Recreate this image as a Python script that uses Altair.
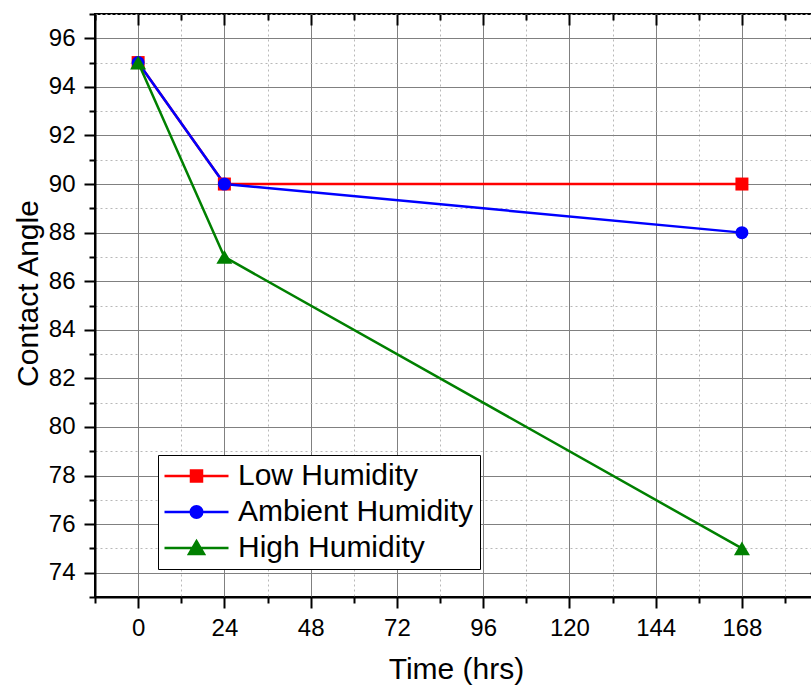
import altair as alt
import pandas as pd

# ---- data ----
hours = [0, 24, 168]
series_names = ["Low Humidity", "Ambient Humidity", "High Humidity"]
low = [95, 90, 90]
ambient = [95, 90, 88]
high = [95, 87, 75]
colors = ["#FF0000", "#0000FF", "#008000"]
marker_shapes = ["square", "circle", "triangle-up"]
marker_sizes = [169, 169, 256]

x_major = [0, 24, 48, 72, 96, 120, 144, 168]
x_minor = [-12, 12, 36, 60, 84, 108, 132, 156, 180]
y_major = list(range(74, 97, 2))
y_minor = list(range(73, 98, 2))

rows = []
for name, vals in zip(series_names, [low, ambient, high]):
    for h, v in zip(hours, vals):
        rows.append({"Time": h, "Angle": v, "Series": name})
df = pd.DataFrame(rows)

FONT = "Liberation Sans"
xs = alt.Scale(domain=[-12, 190], nice=False, zero=False)
ys = alt.Scale(domain=[73, 97], nice=False, zero=False)

legend_paths = [
    "M-6.4,0H6.4M-1.1,-1.1H1.1V1.1H-1.1Z",
    "M-6.4,0H6.4M-1.15,0A1.15,1.15,0,1,0,1.15,0A1.15,1.15,0,1,0,-1.15,0Z",
    "M-6.4,0H6.4M0,-1.35L1.5,1.2L-1.5,1.2Z",
]

base = alt.Chart(df)

tick_common = dict(tickWidth=2, tickColor="black", labelFont=FONT, labelColor="black")

major_x_axis = alt.Axis(
    orient="bottom", values=x_major, tickSize=11, domain=True, domainColor="black",
    domainWidth=2, labelFontSize=24, labelPadding=8, format="d",
    grid=True, gridColor="#808080", gridWidth=1,
    title="Time (hrs)", titleFont=FONT, titleFontSize=30, titleFontWeight="normal",
    titleColor="black", titleX=361, titleY=81, titleBaseline="alphabetic",
    titleAlign="center", **tick_common)
major_y_axis = alt.Axis(
    orient="left", values=y_major, tickSize=11, domain=True, domainColor="black",
    domainWidth=2, labelFontSize=24, labelPadding=9, format="d",
    grid=True, gridColor="#808080", gridWidth=1,
    title="Contact Angle", titleFont=FONT, titleFontSize=30, titleFontWeight="normal",
    titleColor="black", titleX=-67, titleY=279, titleAngle=-90,
    titleBaseline="middle", titleAlign="center", **tick_common)
minor_x_axis = alt.Axis(
    orient="bottom", values=x_minor, tickSize=6, domain=False, labels=False,
    grid=True, gridColor="#b8b8b8", gridDash=[2, 3], gridWidth=1, title=None, **tick_common)
minor_y_axis = alt.Axis(
    orient="left", values=y_minor, tickSize=6, domain=False, labels=False,
    grid=True, gridColor="#b8b8b8", gridDash=[2, 3], gridWidth=1, title=None, **tick_common)

line_layers = []
point_layers = []
for i, (name, col, shp, sz) in enumerate(zip(series_names, colors, marker_shapes, marker_sizes)):
    sub = base.transform_filter(alt.datum.Series == name)
    line_layers.append(
        sub.mark_line(strokeWidth=2.5, color=col).encode(
            x=alt.X("Time:Q", scale=xs, axis=major_x_axis if i == 0 else None),
            y=alt.Y("Angle:Q", scale=ys, axis=major_y_axis if i == 0 else None),
        )
    )
    point_layers.append(
        sub.mark_point(filled=True, opacity=1, shape=shp, size=sz, color=col).encode(
            x=alt.X("Time:Q", scale=xs, axis=minor_x_axis if i == 0 else None),
            y=alt.Y("Angle:Q", scale=ys, axis=minor_y_axis if i == 0 else None),
        )
    )

leg = alt.Legend(
    title=None, orient="none", legendX=63, legendY=441, padding=6,
    strokeColor="black", fillColor="white", rowPadding=6, symbolSize=100,
    symbolStrokeWidth=2.5, symbolOffset=17.5, labelOffset=26.5, labelFont=FONT,
    labelFontSize=30, labelColor="black", labelLimit=400, symbolOpacity=1,
)

legend_layer = base.transform_filter("false").mark_point(opacity=1, strokeWidth=2.5).encode(
    x=alt.X("Time:Q", scale=xs, axis=None),
    y=alt.Y("Angle:Q", scale=ys, axis=None),
    fill=alt.Fill("Series:N", scale=alt.Scale(domain=series_names, range=colors), legend=leg),
    stroke=alt.Stroke("Series:N", scale=alt.Scale(domain=series_names, range=colors), legend=leg),
    shape=alt.Shape("Series:N", scale=alt.Scale(domain=series_names, range=legend_paths), legend=leg),
)

def inner_ticks(xvals, yvals, size):
    return base.transform_filter("false").mark_point().encode(
        x=alt.X("Time:Q", scale=xs, axis=alt.Axis(
            orient="top", values=xvals, offset=-size, tickSize=size, domain=False,
            labels=False, grid=False, title=None, **tick_common)),
        y=alt.Y("Angle:Q", scale=ys, axis=alt.Axis(
            orient="right", values=yvals, offset=-size, tickSize=size, domain=False,
            labels=False, grid=False, title=None, **tick_common)),
    )

chart = alt.layer(
    *line_layers, *point_layers, legend_layer,
    inner_ticks(x_major, y_major, 11), inner_ticks(x_minor, y_minor, 6)
).resolve_axis(
    x="independent", y="independent"
).properties(
    width=726, height=583,
    autosize=alt.AutoSizeParams(type="none"),
    padding={"left": 95, "top": 14, "right": -10, "bottom": 89},
    background="white",
).configure_view(stroke="black", strokeWidth=2)

chart.save("out.html", embed_options={"renderer": "svg", "actions": False})
